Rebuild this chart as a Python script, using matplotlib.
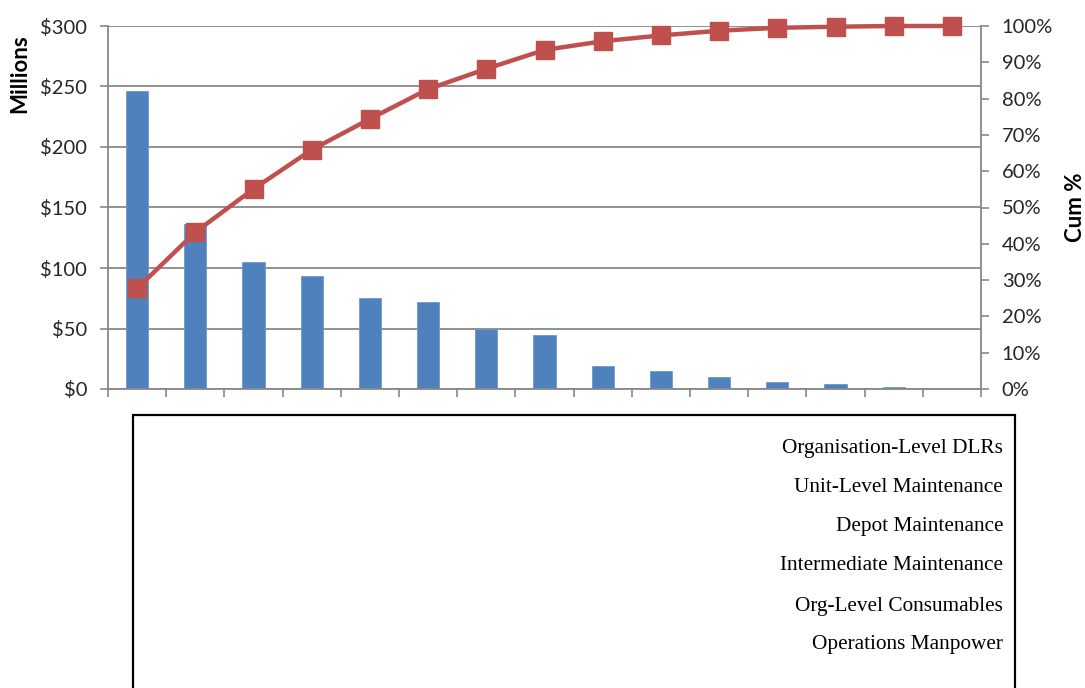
import matplotlib
matplotlib.use("Agg")
import matplotlib.pyplot as plt
from matplotlib.patches import Rectangle
from matplotlib.ticker import FuncFormatter, FixedLocator
import numpy as np

# Cost per category ($ millions), sorted descending
costs = [246.5, 136, 104.7, 93.4, 75, 72.2, 49.3, 44.9, 19.2, 14.5, 9.7, 6.0, 3.9, 1.4, 0.0]
# Cumulative share of total cost (%)
cum_pct = [27.7, 43.2, 55.1, 65.9, 74.4, 82.6, 88.2, 93.4, 95.8, 97.4, 98.7, 99.5, 99.8, 100, 100]
# Category names listed in the panel below the chart
panel_labels = [
    "Organisation-Level DLRs",
    "Unit-Level Maintenance",
    "Depot Maintenance",
    "Intermediate Maintenance",
    "Org-Level Consumables",
    "Operations Manpower",
]
cost_ticks = [0, 50, 100, 150, 200, 250, 300]
pct_ticks = list(range(0, 101, 10))

BAR_COLOR = "#4F81BD"
LINE_COLOR = "#C0504D"
AXIS_GRAY = "#888888"
TEXT_COLOR = "#262626"

plt.rcParams["font.family"] = ["Lato", "DejaVu Sans"]

W, H = 1085, 688
fig = plt.figure(figsize=(W / 100, H / 100), dpi=100)
fig.patch.set_facecolor("white")

left, right, top, bottom = 108, 981, 26, 389
ax = fig.add_axes([left / W, 1 - bottom / H, (right - left) / W, (bottom - top) / H])

x = np.arange(len(costs))
ax.bar(x, costs, width=0.38, color=BAR_COLOR, edgecolor="#6E99CC", linewidth=0.6, zorder=2)
ax.set_xlim(-0.5, len(costs) - 0.5)
ax.set_ylim(0, 300)
ax.set_yticks(cost_ticks)
ax.yaxis.set_major_formatter(FuncFormatter(lambda v, p: f"${int(v)}"))
ax.set_axisbelow(True)
ax.grid(axis="y", color=AXIS_GRAY, linewidth=1.3)
ax.set_xticks([])
ax.xaxis.set_minor_locator(FixedLocator(np.arange(-0.5, len(costs), 1.0)))
ax.tick_params(axis="x", which="minor", length=6, width=1.2, color=AXIS_GRAY, direction="out")
ax.tick_params(axis="y", length=6, width=1.2, color=AXIS_GRAY, labelsize=14.5,
               labelcolor=TEXT_COLOR, pad=9)
for side in ("top", "right"):
    ax.spines[side].set_visible(False)
for side in ("left", "bottom"):
    ax.spines[side].set_color(AXIS_GRAY)
    ax.spines[side].set_linewidth(1.3)

ax2 = ax.twinx()
ax2.plot(x, cum_pct, color=LINE_COLOR, linewidth=3.2, marker="s", markersize=12.5,
         markerfacecolor=LINE_COLOR, markeredgecolor=LINE_COLOR, zorder=3, clip_on=False)
ax2.set_ylim(0, 100)
ax2.set_yticks(pct_ticks)
ax2.yaxis.set_major_formatter(FuncFormatter(lambda v, p: f"{int(v)}%"))
ax2.tick_params(axis="y", length=6, width=1.2, color=AXIS_GRAY, labelsize=14.5,
                labelcolor=TEXT_COLOR, pad=9)
for side in ("top", "left", "bottom"):
    ax2.spines[side].set_visible(False)
ax2.spines["right"].set_color(AXIS_GRAY)
ax2.spines["right"].set_linewidth(1.3)

fig.text(20 / W, 1 - 74 / H, "Millions", rotation=90, ha="center", va="center",
         fontsize=16, fontweight="bold", color="black")
fig.text(1075 / W, 1 - 207 / H, "Cum %", rotation=90, ha="center", va="center",
         fontsize=16, fontweight="bold", color="black")

# Category panel below the chart
bx0, bx1, by0 = 133, 1015, 415
fig.patches.append(Rectangle((bx0 / W, -0.1), (bx1 - bx0) / W, 1 - by0 / H + 0.1,
                             transform=fig.transFigure, fill=False,
                             edgecolor="black", linewidth=1.6))
label_y = [448, 488, 527, 566, 606, 645]
for name, yy in zip(panel_labels, label_y):
    fig.text(1003 / W, 1 - yy / H, name, ha="right", va="center",
             fontsize=15.3, family=["Liberation Serif", "DejaVu Serif"], color="black")

fig.savefig("out.png", dpi=100)
